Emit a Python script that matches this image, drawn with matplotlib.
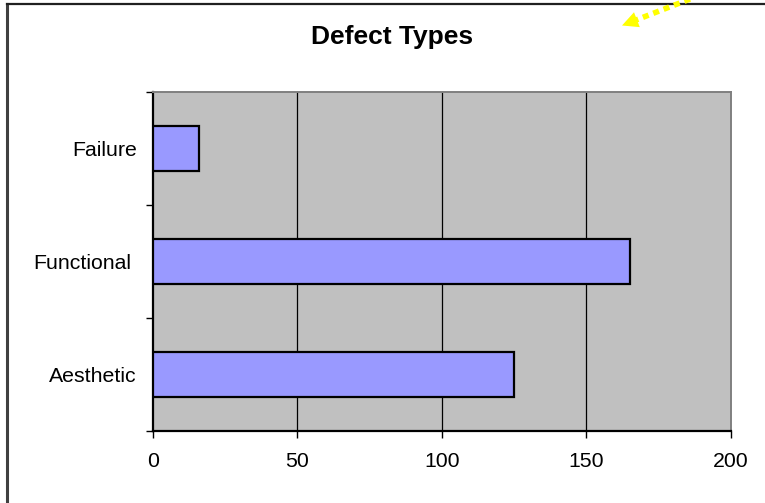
import numpy as np
import matplotlib
matplotlib.use("Agg")
import matplotlib.pyplot as plt
from matplotlib.lines import Line2D
from matplotlib.patches import Polygon
from matplotlib.transforms import ScaledTranslation

categories = ["Aesthetic", "Functional", "Failure"]
values = [125, 165, 16]
x_ticks = [0, 50, 100, 150, 200]
title = "Defect Types"

plt.rcParams['font.family'] = ['Liberation Sans', 'DejaVu Sans']

W, H = 765, 503
fig = plt.figure(figsize=(W / 100, H / 100), dpi=100)
fig.patch.set_facecolor("white")

def fx(px):
    return px / W

def fy(py):
    return 1 - py / H

# figure border (left & top visible)
fig.add_artist(Line2D([fx(7), fx(7)], [0, fy(4)], color="#404040", lw=2.2, transform=fig.transFigure))
fig.add_artist(Line2D([fx(7), 1], [fy(4), fy(4)], color="#202020", lw=1.6, transform=fig.transFigure))

ax = fig.add_axes([fx(152.7), 72 / H, 578 / W, 339 / H])
ax.set_facecolor("#C0C0C0")

ypos = list(range(len(categories)))
ax.barh(ypos, values, height=0.39, color="#9999FF", edgecolor="black", linewidth=1.6, zorder=3)

ax.set_xlim(0, 200)
ax.set_ylim(-0.5, len(categories) - 0.5)
ax.set_xticks(x_ticks)
ax.set_xticklabels([str(t) for t in x_ticks], fontsize=15.3)
ax.tick_params(axis="x", direction="out", length=5, width=1, pad=10, colors="black")

ax.set_yticks(ypos)
ax.set_yticklabels(categories, fontsize=15.3)
ax.tick_params(axis="y", which="major", length=0, pad=11.5)
ax.set_yticks([i - 0.5 for i in range(len(categories) + 1)], minor=True)
ax.tick_params(axis="y", which="minor", direction="out", length=5, width=1, color="black")

# the reference's "Functional" label sits slightly further left
for lbl in ax.get_yticklabels():
    if lbl.get_text() == "Functional":
        lbl.set_transform(lbl.get_transform() + ScaledTranslation(-5.5 / 100, 0, fig.dpi_scale_trans))

for v in x_ticks[1:-1]:
    ax.axvline(v, color="black", lw=0.9, zorder=1)

ax.spines["left"].set_color("black")
ax.spines["left"].set_linewidth(1.6)
ax.spines["bottom"].set_color("black")
ax.spines["bottom"].set_linewidth(1.6)
ax.spines["top"].set_color("#808080")
ax.spines["top"].set_linewidth(1.4)
ax.spines["right"].set_color("#808080")
ax.spines["right"].set_linewidth(1.4)

fig.text(fx(392), fy(37), title, ha="center", va="center", fontsize=19, fontweight="bold")

# yellow dotted arrow at top right (decoration)
start = np.array([690.0, -1.0])
tip = np.array([622.0, 25.5])
d = (tip - start) / np.linalg.norm(tip - start)
n = np.array([-d[1], d[0]])
base = tip - d * 16
fig.add_artist(Line2D([fx(start[0]), fx(base[0] + d[0] * 2)], [fy(start[1]), fy(base[1] + d[1] * 2)],
                      color="#FFFF00", lw=4.0, linestyle=(0, (1.1, 0.9)), solid_capstyle="butt",
                      dash_capstyle="butt", transform=fig.transFigure))
p1 = base + n * 8
p2 = base - n * 8
fig.add_artist(Polygon([[fx(tip[0]), fy(tip[1])], [fx(p1[0]), fy(p1[1])], [fx(p2[0]), fy(p2[1])]],
                       closed=True, facecolor="#FFFF00", edgecolor="none", transform=fig.transFigure))

fig.savefig("out.png", dpi=100)
